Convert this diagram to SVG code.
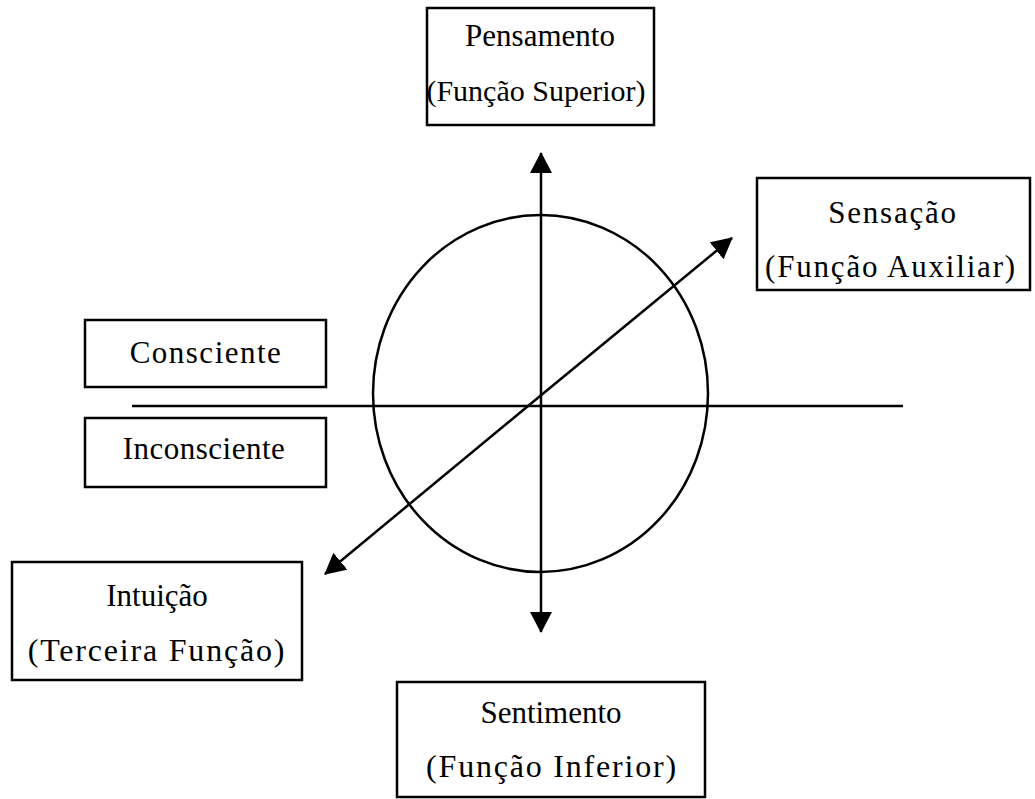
<svg xmlns="http://www.w3.org/2000/svg" width="1035" height="799" viewBox="0 0 1035 799">
<style>
.box{fill:#fff;stroke:#000;stroke-width:2.5}
.t{font-family:"Liberation Serif","Times New Roman",serif;font-size:31px;fill:#000;text-anchor:middle}
.ln{stroke:#000;stroke-width:2.5;fill:none}
</style>
<defs>
<marker id="ah" markerUnits="userSpaceOnUse" markerWidth="22" markerHeight="22" viewBox="0 0 22 22" refX="20" refY="11" orient="auto">
<path d="M0,0 L21,11 L0,22 Z" fill="#000"/>
</marker>
</defs>
<rect width="1035" height="799" fill="#fff"/>
<g id="connectors">
<ellipse class="ln" cx="540.5" cy="393.5" rx="167.5" ry="178.5"/>
<line class="ln" x1="132" y1="406" x2="903" y2="406"/>
<line class="ln" x1="541" y1="400" x2="541" y2="153" marker-end="url(#ah)"/>
<line class="ln" x1="541" y1="400" x2="541" y2="632" marker-end="url(#ah)"/>
<line class="ln" x1="528" y1="406" x2="732" y2="238" marker-end="url(#ah)"/>
<line class="ln" x1="528" y1="406" x2="325" y2="574" marker-end="url(#ah)"/>
</g>
<g id="pensamento">
<rect class="box" x="427" y="8" width="227" height="117"/>
<text class="t" x="540" y="46">Pensamento</text>
<text class="t" x="536" y="101" style="font-size:30px">(Função Superior)</text>
</g>
<g id="sensacao">
<rect class="box" x="757" y="178" width="273" height="112"/>
<text class="t" x="893" y="223" letter-spacing="1.8">Sensação</text>
<text class="t" x="891" y="277" letter-spacing="1.8">(Função Auxiliar)</text>
</g>
<g id="consciente">
<rect class="box" x="85" y="320" width="241" height="67"/>
<text class="t" x="206" y="363" letter-spacing="1.5">Consciente</text>
</g>
<g id="inconsciente">
<rect class="box" x="85" y="418" width="241" height="69"/>
<text class="t" x="204" y="459" letter-spacing="0.5">Inconsciente</text>
</g>
<g id="intuicao">
<rect class="box" x="12" y="562" width="290" height="118"/>
<text class="t" x="157" y="606">Intuição</text>
<text class="t" x="157" y="661" style="font-size:32px" letter-spacing="1.8">(Terceira Função)</text>
</g>
<g id="sentimento">
<rect class="box" x="397" y="682" width="308" height="115"/>
<text class="t" x="551" y="723">Sentimento</text>
<text class="t" x="552" y="777" style="font-size:32px" letter-spacing="1.8">(Função Inferior)</text>
</g>
</svg>
